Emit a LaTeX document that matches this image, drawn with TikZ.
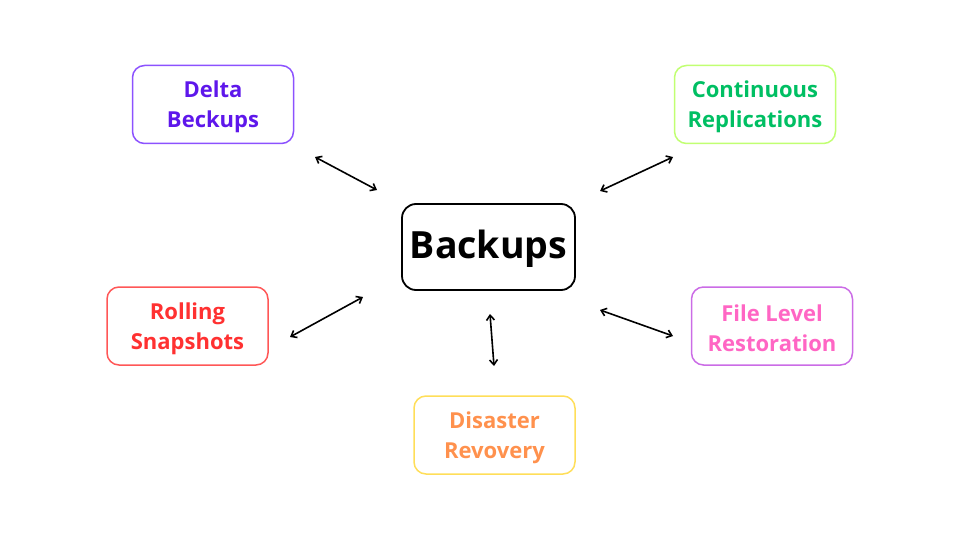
\documentclass[tikz,border=0pt]{standalone}
\usepackage{fontspec}
\setmainfont{Open Sans}
\usetikzlibrary{arrows.meta}
\definecolor{deltatext}{HTML}{5E17EB}
\definecolor{deltaline}{HTML}{8C52FF}
\definecolor{conttext}{HTML}{00BF63}
\definecolor{contline}{HTML}{C1FF72}
\definecolor{rolltext}{HTML}{FF3131}
\definecolor{rollline}{HTML}{FF5757}
\definecolor{filetext}{HTML}{FF66C4}
\definecolor{fileline}{HTML}{CB6CE6}
\definecolor{distext}{HTML}{FF914D}
\definecolor{disline}{HTML}{FFDE59}
\tikzset{
  topic/.style={draw, line width=1.5pt, rounded corners=12pt, align=center,
    minimum width=161pt, minimum height=78pt, inner sep=0pt, text height=52pt,
    font=\fontsize{22}{30}\selectfont\bfseries},
  link/.style={{Straight Barb[length=5pt,width=8pt]}-{Straight Barb[length=5pt,width=8pt]}, line width=1.6pt}
}
\begin{document}
\begin{tikzpicture}[x=1pt,y=-1pt]
\useasboundingbox (0,0) rectangle (960,540);
%\draw (0,0) rectangle (960,540);

\draw (488.5,247) node[draw, line width=1.8pt, rounded corners=14pt, minimum width=173pt, minimum height=86pt,
  inner sep=0pt, text height=32pt, font=\fontsize{37.5}{42}\selectfont\bfseries] (backups) {Backups};

\draw (213,104.5) node[topic, draw=deltaline, text=deltatext] (delta) {Delta\\Beckups};
\draw (755,104.5) node[topic, draw=contline, text=conttext] (cont) {Continuous\\Replications};
\draw (187.5,326) node[topic, draw=rollline, text=rolltext] (roll) {Rolling\\Snapshots};
\draw (772,326) node[topic, draw=fileline, text=filetext] (file) {File Level\\Restoration};
\draw (494.5,435) node[topic, draw=disline, text=distext] (dis) {Disaster\\Revovery};

\coordinate (d1) at (315,157);  \coordinate (d2) at (377,190);
\coordinate (c1) at (600,191);  \coordinate (c2) at (673,157);
\coordinate (r1) at (290,337);  \coordinate (r2) at (363,297);
\coordinate (f1) at (600,310);  \coordinate (f2) at (673,336);
\coordinate (s1) at (490,314);  \coordinate (s2) at (494,366);

\draw[link] (d1) -- (d2);
\draw[link] (c1) -- (c2);
\draw[link] (r1) -- (r2);
\draw[link] (f1) -- (f2);
\draw[link] (s1) -- (s2);
\end{tikzpicture}
\end{document}
